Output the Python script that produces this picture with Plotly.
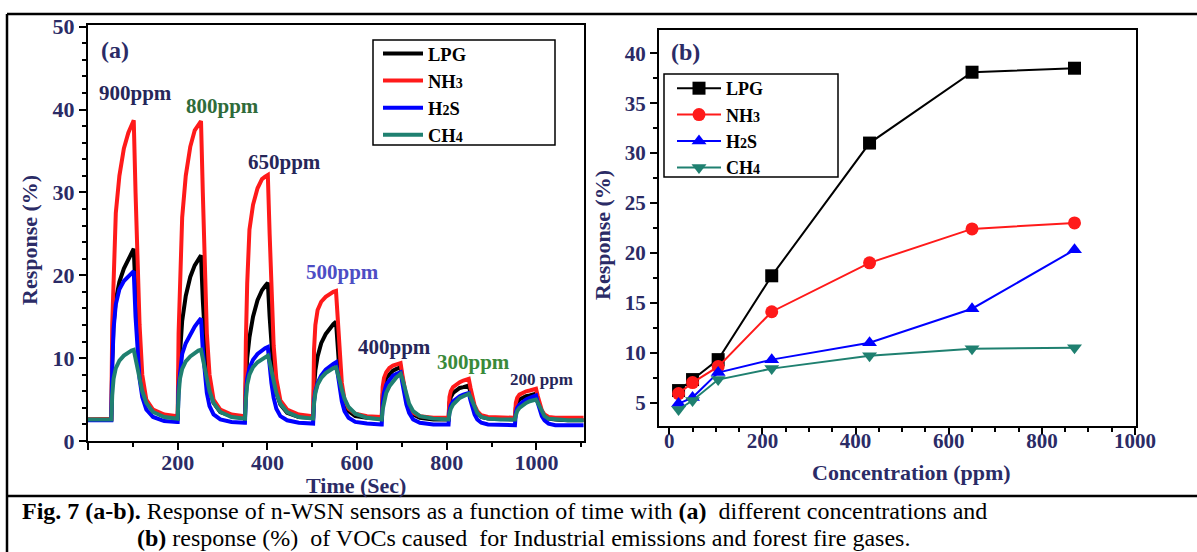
import plotly.graph_objects as go

# ---------------- data: panel (a) response vs time ----------------
time_s = [0, 51,
          52, 54, 57, 62, 70, 80, 90, 97, 102, 106, 110, 115, 121, 130, 145, 170, 199,
          200, 202, 205, 210, 218, 228, 238, 246, 252, 256, 260, 265, 271, 280, 295, 320, 349,
          350, 352, 355, 360, 368, 378, 388, 395, 401, 405, 409, 414, 420, 429, 444, 470, 501,
          502, 504, 507, 512, 520, 530, 540, 547, 553, 557, 561, 566, 572, 581, 596, 622, 654,
          655, 657, 660, 665, 672, 680, 688, 693, 697, 701, 705, 710, 716, 725, 740, 770, 803,
          804, 806, 809, 814, 821, 829, 837, 844, 849, 853, 857, 862, 868, 877, 892, 920, 951,
          952, 954, 957, 962, 969, 977, 985, 993, 999, 1003, 1007, 1012, 1018, 1027, 1042, 1070, 1105]

nh3_t = [2.6, 2.6,
         2.7, 14, 21, 27.5, 32, 35.3, 37.2, 38.2, 38.7, 30, 22, 14, 8, 5.0, 3.8, 3.2, 3.0,
         3.0, 13, 20, 27, 32, 35.5, 37.5, 38.2, 38.6, 30, 21, 13, 8, 5.0, 3.8, 3.2, 3.0,
         3.0, 12, 19, 25.5, 28.5, 30.5, 31.6, 31.9, 32.1, 25, 18, 11.5, 7.5, 4.9, 3.8, 3.2, 3.0,
         3.0, 11, 14, 15.8, 16.8, 17.4, 17.8, 18.0, 18.1, 14, 10, 7, 5.0, 3.9, 3.3, 3.0, 2.9,
         2.9, 6.5, 7.6, 8.3, 8.8, 9.1, 9.3, 9.35, 9.4, 8.0, 6.6, 5.2, 4.1, 3.4, 3.0, 2.8, 2.8,
         2.8, 5.3, 6.0, 6.5, 6.8, 7.1, 7.3, 7.4, 7.5, 6.4, 5.3, 4.3, 3.6, 3.1, 2.9, 2.8, 2.8,
         2.8, 4.6, 5.2, 5.6, 5.8, 6.0, 6.1, 6.2, 6.3, 5.4, 4.5, 3.7, 3.2, 2.9, 2.8, 2.8, 2.8]

lpg_t = [2.6, 2.6,
         2.6, 9.5, 14, 17, 19.2, 20.8, 22.0, 22.7, 23.2, 18, 13, 9, 6.5, 4.8, 3.6, 3.0, 2.8,
         2.8, 8, 11, 14.5, 17.5, 19.8, 21.2, 22.0, 22.4, 17, 12.5, 8.5, 6.2, 4.6, 3.5, 3.0, 2.8,
         2.8, 7, 10, 12.5, 15, 17, 18.2, 18.7, 19.1, 15, 11, 8, 5.8, 4.4, 3.4, 2.9, 2.8,
         2.8, 6.5, 8.5, 10.2, 11.8, 12.9, 13.7, 14.1, 14.4, 11, 8.2, 6.0, 4.6, 3.6, 3.0, 2.8, 2.7,
         2.7, 5.5, 6.8, 7.6, 8.1, 8.5, 8.7, 8.8, 8.9, 7.6, 6.3, 5.0, 4.0, 3.2, 2.8, 2.6, 2.6,
         2.6, 4.6, 5.3, 5.8, 6.1, 6.4, 6.5, 6.6, 6.7, 5.8, 4.9, 4.0, 3.4, 2.9, 2.7, 2.6, 2.6,
         2.6, 4.0, 4.6, 5.0, 5.2, 5.4, 5.5, 5.6, 5.7, 4.9, 4.1, 3.5, 3.0, 2.7, 2.6, 2.5, 2.5]

h2s_t = [2.5, 2.5,
         2.5, 9, 13.5, 16.5, 18.3, 19.3, 19.9, 20.2, 20.5, 15, 11, 7.5, 5.3, 3.8, 2.9, 2.4, 2.3,
         2.3, 6.5, 8.5, 10.5, 11.8, 12.9, 13.8, 14.4, 14.8, 11, 8, 5.8, 4.2, 3.2, 2.6, 2.3, 2.2,
         2.2, 5.5, 7.5, 8.8, 9.8, 10.5, 11.0, 11.2, 11.35, 9, 7, 5.2, 3.9, 3.0, 2.5, 2.2, 2.1,
         2.1, 4.8, 6.0, 7.0, 7.9, 8.6, 9.1, 9.3, 9.5, 7.8, 6.2, 4.8, 3.6, 2.8, 2.3, 2.1, 2.0,
         2.0, 4.5, 5.8, 6.8, 7.4, 7.9, 8.1, 8.2, 8.3, 7.0, 5.7, 4.4, 3.4, 2.6, 2.2, 2.0, 2.0,
         2.0, 3.6, 4.3, 4.8, 5.1, 5.4, 5.6, 5.7, 5.8, 4.9, 4.0, 3.2, 2.6, 2.2, 2.0, 1.9, 1.9,
         1.9, 3.4, 4.0, 4.4, 4.7, 5.0, 5.2, 5.4, 5.5, 4.6, 3.7, 3.0, 2.5, 2.1, 1.9, 1.9, 1.9]

ch4_t = [2.6, 2.6,
         2.6, 5.5, 7.5, 8.8, 9.7, 10.3, 10.7, 10.9, 11.0, 10, 9, 7.5, 6.0, 4.6, 3.5, 2.9, 2.7,
         2.7, 5.5, 7.5, 8.7, 9.6, 10.2, 10.6, 10.9, 11.0, 10, 9, 7.5, 6.0, 4.6, 3.5, 2.9, 2.7,
         2.7, 5.0, 6.8, 8.0, 8.9, 9.5, 9.9, 10.1, 10.3, 9.5, 8.5, 7.2, 5.8, 4.5, 3.5, 2.9, 2.7,
         2.7, 4.5, 5.8, 6.8, 7.6, 8.2, 8.6, 8.8, 8.9, 8.2, 7.3, 6.2, 5.1, 4.1, 3.3, 2.8, 2.7,
         2.6, 3.8, 4.8, 5.8, 6.6, 7.2, 7.7, 7.9, 8.1, 7.5, 6.6, 5.5, 4.5, 3.6, 3.0, 2.7, 2.6,
         2.6, 3.3, 3.9, 4.4, 4.8, 5.2, 5.4, 5.6, 5.7, 5.3, 4.7, 4.0, 3.4, 2.9, 2.7, 2.6, 2.6,
         2.6, 3.1, 3.6, 4.0, 4.3, 4.6, 4.8, 4.9, 5.0, 4.6, 4.1, 3.5, 3.0, 2.7, 2.6, 2.5, 2.5]

ppm_labels = ["900ppm", "800ppm", "650ppm", "500ppm", "400ppm", "300ppm", "200 ppm"]
ppm_label_x = [107, 299, 438, 567, 683, 859, 1011]
ppm_label_y = [42.0, 40.4, 33.7, 20.4, 11.35, 9.5, 7.4]
ppm_label_colors = ["#262659", "#2f6b3a", "#262659", "#4d4dc4", "#262659", "#3a8a3a", "#262659"]
ppm_label_sizes = [21, 21, 21, 21, 21, 21, 17]

# ---------------- data: panel (b) response vs concentration ----------------
conc_ppm = [20, 50, 105, 220, 430, 650, 870]
lpg_c = [6.2, 7.3, 9.3, 17.7, 31.0, 38.1, 38.5]
nh3_c = [5.9, 7.0, 8.6, 14.1, 19.0, 22.4, 23.0]
h2s_c = [4.9, 5.5, 8.0, 9.3, 11.0, 14.4, 20.3]
ch4_c = [4.3, 5.2, 7.3, 8.4, 9.7, 10.4, 10.5]

gas_names = ["LPG", "NH<span style='font-size:14px'>3</span>",
             "H<span style='font-size:14px'>2</span>S", "CH<span style='font-size:14px'>4</span>"]
gas_colors = ["#000000", "#ff1a1a", "#0000ff", "#1f8070"]
gas_symbols = ["square", "circle", "triangle-up", "triangle-down"]

for arr in (nh3_t, lpg_t, h2s_t, ch4_t):
    assert len(arr) == len(time_s), len(arr)

W, H = 1197, 552
NAVY = "#2b2b66"
SERIF = "Liberation Serif"


def px(x):
    return x / W


def py(y):
    return 1 - y / H


fig = go.Figure()

series_t = [lpg_t, nh3_t, h2s_t, ch4_t]
for name, col, vals in zip(gas_names, gas_colors, series_t):
    fig.add_trace(go.Scatter(x=time_s, y=vals, mode="lines", name=name,
                             line=dict(color=col, width=4),
                             xaxis="x", yaxis="y", legend="legend"))

series_c = [lpg_c, nh3_c, h2s_c, ch4_c]
for name, col, sym, vals in zip(gas_names, gas_colors, gas_symbols, series_c):
    fig.add_trace(go.Scatter(x=conc_ppm, y=vals, mode="lines+markers", name=name,
                             line=dict(color=col, width=2),
                             marker=dict(symbol=sym, size=13, color=col),
                             xaxis="x2", yaxis="y2", legend="legend2"))

common = dict(showline=True, linecolor="black", linewidth=2, mirror=True,
              ticks="outside", ticklen=7, tickwidth=2, tickcolor="black",
              showgrid=False, zeroline=False)
font_a = dict(family=SERIF, size=22, color=NAVY, weight="bold")
font_b = dict(family=SERIF, size=21, color=NAVY, weight="bold")

fig.update_layout(
    width=W, height=H, autosize=False,
    margin=dict(l=0, r=0, t=0, b=0, autoexpand=False),
    paper_bgcolor="white", plot_bgcolor="white",
    xaxis=dict(domain=[px(88), px(584)], range=[0, 1106], anchor="y",
               tickvals=[0, 200, 400, 600, 800, 1000],
               ticktext=["", "200", "400", "600", "800", "1000"],
               ticklabelstandoff=-6,
               minor=dict(tick0=0, dtick=100, ticks="outside", ticklen=4,
                          tickwidth=1.5, tickcolor="black"),
               tickfont=font_a, **common),
    yaxis=dict(domain=[py(441), py(25)], range=[0, 50.2], anchor="x",
               tick0=0, dtick=10,
               minor=dict(tick0=0, dtick=2, ticks="outside", ticklen=4,
                          tickwidth=1.5, tickcolor="black"),
               tickfont=font_a, **common),
    xaxis2=dict(domain=[px(659), px(1136)], range=[-22, 1002], anchor="y2",
                tick0=0, dtick=200, ticklabelstandoff=-12,
                minor=dict(tick0=0, dtick=50, ticks="outside", ticklen=4,
                           tickwidth=1.5, tickcolor="black"),
                tickfont=font_b, **common),
    yaxis2=dict(domain=[py(426), py(30)], range=[2.65, 42.33], anchor="x2",
                tick0=0, dtick=5,
                minor=dict(tick0=0, dtick=2.5, ticks="outside", ticklen=4,
                           tickwidth=1.5, tickcolor="black"),
                tickfont=font_b, **common),
    legend=dict(x=px(378), y=py(35), xanchor="left", yanchor="top", itemwidth=40,
                bgcolor="rgba(0,0,0,0)", borderwidth=0, tracegroupgap=0,
                font=dict(family=SERIF, size=18.5, color="black", weight="bold")),
    legend2=dict(x=px(672), y=py(70), xanchor="left", yanchor="top", itemwidth=44,
                 bgcolor="rgba(0,0,0,0)", borderwidth=0, tracegroupgap=0,
                 font=dict(family=SERIF, size=18, color="black", weight="bold")),
    showlegend=True,
)

shapes = [
    # legend boxes
    dict(type="rect", xref="paper", yref="paper", x0=px(373), x1=px(555), y0=py(145), y1=py(40),
         line=dict(color="black", width=1.5)),
    dict(type="rect", xref="paper", yref="paper", x0=px(664), x1=px(838), y0=py(177), y1=py(74),
         line=dict(color="black", width=1.5)),
    # outer frame
    dict(type="line", xref="paper", yref="paper", x0=px(7), x1=1, y0=py(14), y1=py(14),
         line=dict(color="black", width=2.5)),
    dict(type="line", xref="paper", yref="paper", x0=px(7), x1=px(7), y0=py(14), y1=0,
         line=dict(color="black", width=2.5)),
    dict(type="line", xref="paper", yref="paper", x0=px(7), x1=1, y0=py(496), y1=py(496),
         line=dict(color="black", width=2.5)),
]
fig.update_layout(shapes=shapes)

ann = []
title_font = dict(family=SERIF, size=22, color=NAVY, weight="bold")


def note(text, x, y, font, xanchor="center", yanchor="middle", **kw):
    return dict(text=text, x=x, y=y, xref="paper", yref="paper", showarrow=False,
                xanchor=xanchor, yanchor=yanchor, font=font, **kw)


ann.append(note("Response (%)", px(30), py(240), title_font, textangle=-90))
ann.append(note("Response (%)", px(602), py(235), title_font, textangle=-90))
ann.append(note("Time (Sec)", px(356), py(485), title_font))
ann.append(note("Concentration (ppm)", px(911), py(472), title_font))
lab_font = dict(family=SERIF, size=24, color=NAVY, weight="bold")
ann.append(note("(a)", px(99), py(50), lab_font, xanchor="left"))
ann.append(note("(b)", px(669), py(52), lab_font, xanchor="left"))
for t, xv, yv, c, s in zip(ppm_labels, ppm_label_x, ppm_label_y, ppm_label_colors, ppm_label_sizes):
    ann.append(dict(text=t, x=xv, y=yv, xref="x", yref="y", showarrow=False,
                    xanchor="center", yanchor="middle",
                    font=dict(family=SERIF, size=s, color=c, weight="bold")))
cap_font = dict(family=SERIF, size=24, color="black")
ann.append(note("<b>Fig. 7 (a-b).</b> Response of n-WSN sensors as a function of time with "
                "<b>(a)</b>  different concentrations and",
                px(20), py(511), cap_font, xanchor="left"))
ann.append(note("<b>(b)</b> response (%)  of VOCs caused  for Industrial emissions and forest fire gases.",
                px(135), py(538), cap_font, xanchor="left"))
fig.update_layout(annotations=ann)

fig.write_html(
    "out.html",
    config={"displayModeBar": False, "responsive": False},
    post_script=("document.documentElement.style.margin='0';"
                 "document.documentElement.style.padding='0';"
                 "document.documentElement.style.overflow='hidden';"
                 "document.body.style.margin='0';"
                 "document.body.style.padding='0';"
                 "document.body.style.overflow='hidden';"),
)
